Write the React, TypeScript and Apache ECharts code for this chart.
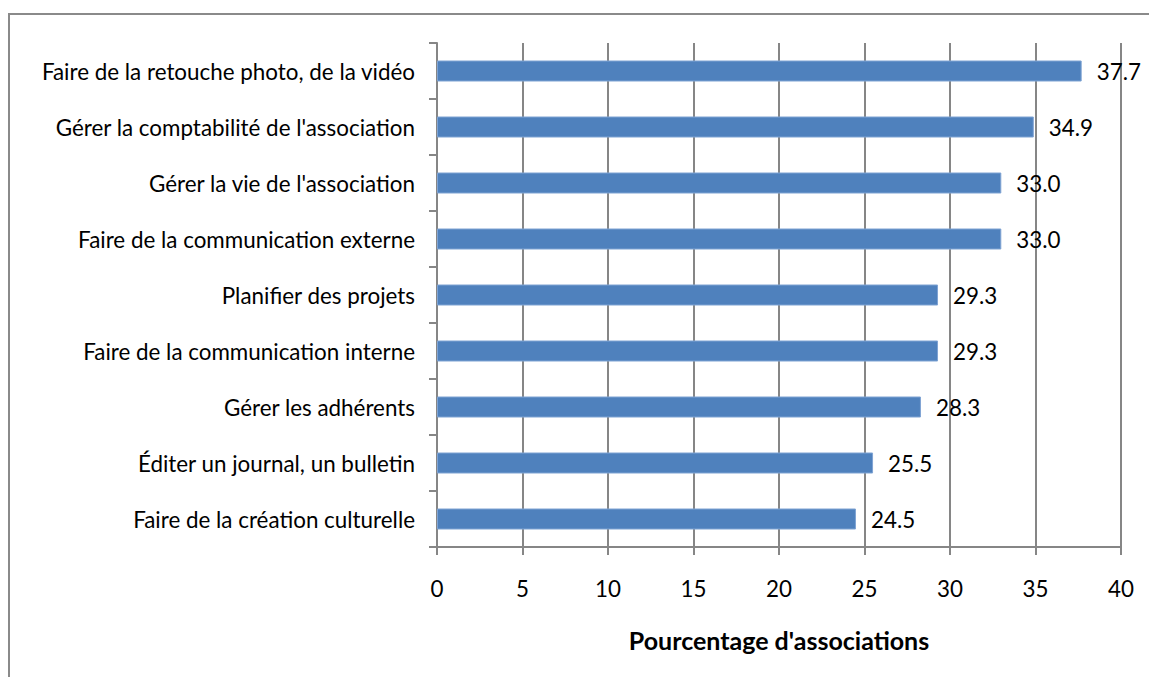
import React, { useEffect, useRef } from "react";
import * as echarts from "echarts";

const categories = [
  "Faire de la retouche photo, de la vidéo",
  "Gérer la comptabilité de l'association",
  "Gérer la vie de l'association",
  "Faire de la communication externe",
  "Planifier des projets",
  "Faire de la communication interne",
  "Gérer les adhérents",
  "Éditer un journal, un bulletin",
  "Faire de la création culturelle",
];
const values = [37.7, 34.9, 33.0, 33.0, 29.3, 29.3, 28.3, 25.5, 24.5];
const xTicks = [0, 5, 10, 15, 20, 25, 30, 35, 40];
const xTitle = "Pourcentage d'associations";

const FONT = "Lato, 'Open Sans', sans-serif";
const GRAY = "#868686";
const FS = 22.4;

export default function App() {
  const ref = useRef<HTMLDivElement>(null);
  useEffect(() => {
    if (!ref.current) return;
    const chart = echarts.init(ref.current, null, { renderer: "svg" });
    chart.setOption({
      animation: false,
      textStyle: { fontFamily: FONT },
      graphic: [
        {
          type: "rect",
          shape: { x: 9, y: 14, width: 1300, height: 800 },
          style: { fill: "none", stroke: "#8a8a8a", lineWidth: 2 },
          silent: true,
        },
      ],
      grid: { left: 437, right: 28, top: 43, bottom: 130, containLabel: false },
      xAxis: {
        type: "value",
        min: xTicks[0],
        max: xTicks[xTicks.length - 1],
        interval: 5,
        name: xTitle,
        nameLocation: "middle",
        nameGap: 80,
        nameTextStyle: { fontFamily: FONT, fontSize: 25, fontWeight: "bold", color: "#000" },
        axisLine: { show: true, lineStyle: { color: GRAY, width: 2 } },
        axisTick: { show: true, length: 8, lineStyle: { color: GRAY, width: 2 } },
        axisLabel: { margin: 30, fontSize: FS, color: "#000", fontFamily: FONT },
        splitLine: { show: true, lineStyle: { color: GRAY, width: 2 } },
      },
      yAxis: {
        type: "category",
        data: categories,
        inverse: true,
        axisLine: { show: true, lineStyle: { color: GRAY, width: 2 } },
        axisTick: { show: true, length: 8, lineStyle: { color: GRAY, width: 2 } },
        axisLabel: { margin: 22, fontSize: FS, color: "#000", fontFamily: FONT },
        splitLine: { show: false },
      },
      series: [
        {
          type: "bar",
          data: values,
          barWidth: 21,
          itemStyle: { color: "#4F81BD", borderColor: "#7FA3D3", borderWidth: 1 },
          label: {
            show: true,
            position: "right",
            distance: 15,
            fontSize: FS,
            color: "#000",
            fontFamily: FONT,
            formatter: (p: any) => Number(p.value).toFixed(1),
          },
        },
      ],
    });
    return () => chart.dispose();
  }, []);
  return (
    <div
      ref={ref}
      style={{ position: "fixed", left: 0, top: 0, width: 1149, height: 677, background: "#fff" }}
    />
  );
}
